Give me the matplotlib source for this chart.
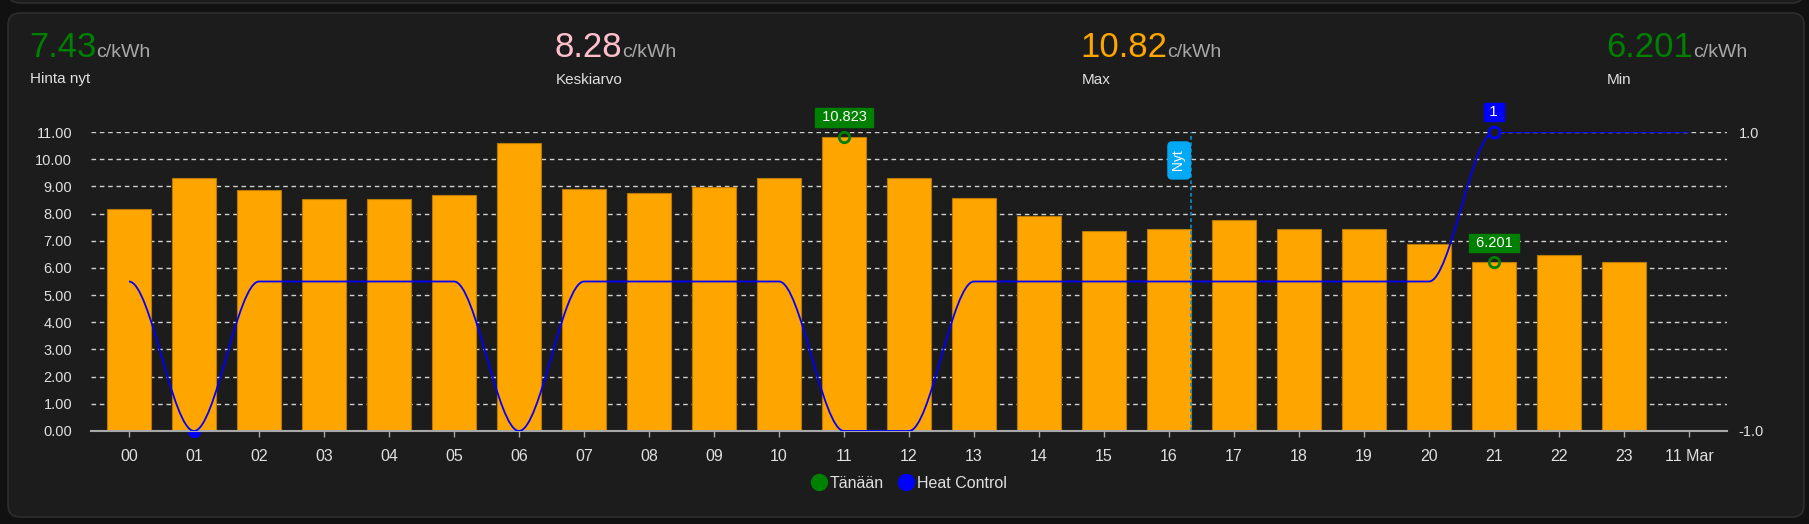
import numpy as np
import matplotlib
matplotlib.use("Agg")
import matplotlib.pyplot as plt
from matplotlib.patches import FancyBboxPatch, PathPatch
from matplotlib.path import Path
from matplotlib.lines import Line2D
from matplotlib.transforms import IdentityTransform

# ── data ─────────────────────────────────────
hours = list(range(24))
hour_labels = [f"{h:02d}" for h in hours] + ["11 Mar"]
prices = [8.16, 9.29, 8.87, 8.55, 8.55, 8.70, 10.59, 8.92, 8.77, 8.98, 9.29, 10.823,
          9.29, 8.58, 7.90, 7.35, 7.43, 7.78, 7.44, 7.43, 6.89, 6.201, 6.49, 6.22]
heat_x = list(range(25))
heat_control = [0, -1, 0, 0, 0, 0, -1, 0, 0, 0, 0, -1, -1, 0, 0, 0, 0, 0, 0, 0, 0, 1, 1, 1, 1]
now_hour = 16 + 20 / 60

stat_values = ["7.43", "8.28", "10.82", "6.201"]
stat_names = ["Hinta nyt", "Keskiarvo", "Max", "Min"]
stat_colors = ["#008000", "#ffc0cb", "#ffa500", "#008000"]

W, H = 1809, 524
BG_OUT = "#111111"
BG = "#1c1c1c"
TXT = "#e0e0e0"
plt.rcParams["font.family"] = ["Liberation Sans", "DejaVu Sans"]


def fx(px):
    return px / W


def fy(py):
    # py measured from the top of the image
    return 1 - py / H


fig = plt.figure(figsize=(W / 100, H / 100), dpi=100)
fig.patch.set_facecolor(BG_OUT)

# card above (only the bottom edge shows) and the main card
for (x0, y0, x1, y1) in [(8, -30, 1804, 3), (8, 13, 1804, 517)]:
    card = FancyBboxPatch((x0, H - y1), x1 - x0, y1 - y0,
                          boxstyle="round,pad=0,rounding_size=12",
                          facecolor=BG, edgecolor="#2e2e2e", linewidth=1.2,
                          transform=IdentityTransform(), zorder=-10)
    fig.add_artist(card)

# ── header stats ─────────────────────────────
ax = fig.add_axes([fx(91), fy(431), fx(1636), 299 / H])
for i, (val, name, col) in enumerate(zip(stat_values, stat_names, stat_colors)):
    x0 = 29 + i * 525.7
    t = fig.text(fx(x0), fy(57.3), val, color=col, fontsize=25,
                 va="baseline", ha="left")
    ax.annotate("c/kWh", xy=(1.0, fy(57.3)), xycoords=(t, "figure fraction"),
                color="#a8a8a8", fontsize=14, va="baseline", ha="left",
                annotation_clip=False)
    fig.text(fx(x0 + 1), fy(83.5), name, color=TXT, fontsize=11, va="baseline")

# ── bars ─────────────────────────────────────
ax.set_facecolor("none")
ax.set_axisbelow(True)
ax.yaxis.grid(True, color="#d0d0d0", linestyle=(0, (3.3, 2.7)), linewidth=1)
ax.bar(hours, prices, width=0.68, color="#ffa500", edgecolor="#b87a00",
       linewidth=0.8, zorder=2)

ax.set_xlim(-0.585, 24.585)
ax.set_ylim(0, 11)
ax.set_yticks(range(12))
ax.set_yticklabels([f"{v:.2f}" for v in range(12)])
ax.set_xticks(heat_x)
ax.set_xticklabels(hour_labels)
ax.tick_params(axis="y", length=0, pad=13.5, labelsize=10.5, labelcolor=TXT)
ax.tick_params(axis="x", length=4.3, width=1, color="#a8a8a8", pad=9,
               labelsize=11.5, labelcolor=TXT)
for s in ["top", "left", "right"]:
    ax.spines[s].set_visible(False)
ax.spines["bottom"].set_color("#a8a8a8")
ax.spines["bottom"].set_linewidth(1.5)
ax.spines["bottom"].set_zorder(3)

# max / min markers on prices
i_max = int(np.argmax(prices))
i_min = int(np.argmin(prices))
for i in (i_max, i_min):
    ax.plot(hours[i], prices[i], "o", mfc="none", mec="#008000", ms=7.5,
            mew=2, zorder=4, clip_on=False)
    ax.annotate(f" {prices[i]:.3f} ", xy=(hours[i], prices[i]), xytext=(0, 14),
                textcoords="offset points", ha="center", va="center",
                color="white", fontsize=10.5, zorder=6, annotation_clip=False,
                bbox=dict(boxstyle="square,pad=0.15", facecolor="#008000",
                          edgecolor="#008000"))

# "Nyt" marker
ax.axvline(now_hour, color="#0a8fc8", linestyle=(0, (2.2, 1.6)), linewidth=1.2,
           zorder=3)
ax.annotate(" Nyt ", xy=(now_hour, 11), xytext=(-8.3, -20.5),
            textcoords="offset points", rotation=90, ha="center", va="center",
            color="white", fontsize=10, zorder=6, annotation_clip=False,
            bbox=dict(boxstyle="round,pad=0.3,rounding_size=0.3",
                      facecolor="#03a9f4", edgecolor="#03a9f4"))

# ── heat control (secondary axis, smooth curve) ──
ax2 = ax.twinx()
ax2.set_ylim(-1, 1)
ax2.set_yticks([-1, 1])
ax2.set_yticklabels(["-1.0", "1.0"])
ax2.tick_params(axis="y", length=0, pad=8.5, labelsize=10.5, labelcolor=TXT)
for s in ax2.spines.values():
    s.set_visible(False)

verts = [(heat_x[0], heat_control[0])]
codes = [Path.MOVETO]
for k in range(1, len(heat_x)):
    xa, ya = heat_x[k - 1], heat_control[k - 1]
    xb, yb = heat_x[k], heat_control[k]
    verts += [(xa + (xb - xa) / 3, ya), (xb - (xb - xa) / 3, yb), (xb, yb)]
    codes += [Path.CURVE4] * 3
ax2.add_patch(PathPatch(Path(verts, codes), facecolor="none",
                        edgecolor="#0000ff", linewidth=1.3, zorder=5))

h_max = int(np.argmax(heat_control))
h_min = int(np.argmin(heat_control))
# min marker sits under the bars (only its lower half shows below the axis)
ax.plot(heat_x[h_min], heat_control[h_min], "o", color="#0000ff", ms=8.5,
        zorder=1.5, clip_on=False, transform=ax2.transData)
ax2.plot(heat_x[h_max], heat_control[h_max], "o", mfc=BG, mec="#0000ff",
         ms=8, mew=2, zorder=6, clip_on=False)
ax2.annotate(f" {heat_control[h_max]} ", xy=(heat_x[h_max], heat_control[h_max]),
             xytext=(0, 14.5), textcoords="offset points", ha="center",
             va="center", color="white", fontsize=11, zorder=7,
             annotation_clip=False,
             bbox=dict(boxstyle="square,pad=0.12", facecolor="#0000ff",
                       edgecolor="#0000ff"))

# ── legend ───────────────────────────────────
handles = [Line2D([], [], marker="o", ls="none", color="#008000", ms=11.5),
           Line2D([], [], marker="o", ls="none", color="#0000ff", ms=11.5)]
fig.legend(handles, ["Tänään", "Heat Control"], loc="center",
           bbox_to_anchor=(fx(909), fy(483)), ncol=2, frameon=False,
           handlelength=0.9, handletextpad=0.25, columnspacing=0.9,
           fontsize=11.5, labelcolor=TXT, borderaxespad=0)

fig.savefig("out.png", dpi=100, facecolor=fig.get_facecolor())
